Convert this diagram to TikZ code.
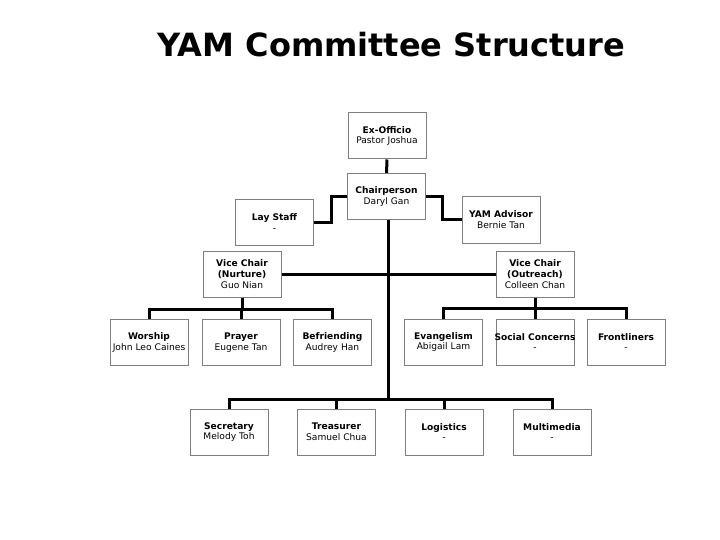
\documentclass[tikz,border=0pt]{standalone}
\usepackage{fontspec}
\setmainfont{DejaVu Sans}
\usetikzlibrary{positioning, calc}
\definecolor{cgrey}{HTML}{7F7F7F}
\tikzset{
  every picture/.style={x=1pt, y=-1pt},
  box/.style={draw=cgrey, fill=white, line width=1pt, text width=76pt, minimum height=46pt, align=center, inner sep=1pt, font=\fontsize{9.1}{10.8}\selectfont},
  link/.style={draw=black, line width=3pt},
  title/.style={font=\fontsize{32}{36}\selectfont\bfseries},
}
\newcommand{\role}[2]{\textbf{#1}\\#2}

\begin{document}
\begin{tikzpicture}
\useasboundingbox (0,0) rectangle (720,540);
% Title
\node[title] (title) at (391.5,45) {YAM Committee Structure};
% top
\node[box] (exofficio) at (387,136) {\role{Ex-Officio}{Pastor Joshua}};
\node[box] (chair) at (386.5,196.5) {\role{Chairperson}{Daryl Gan}};
\node[box] (laystaff) at (274.5,222.5) {\role{Lay Staff}{-}};
\node[box] (advisor) at (501,220) {\role{YAM Advisor}{Bernie Tan}};
% vice chairs
\node[box] (vcnurture) at (242,274) {\textbf{Vice Chair}\\\textbf{(Nurture)}\\Guo Nian};
\node[box] (vcoutreach) at (535,274) {\textbf{Vice Chair}\\\textbf{(Outreach)}\\Colleen Chan};
% ministries
\node[box] (worship) at (149,342.5) {\role{Worship}{John Leo Caines}};
\node[box] (prayer) at (241,342.5) {\role{Prayer}{Eugene Tan}};
\node[box] (befriend) at (332.5,342.5) {\role{Befriending}{Audrey Han}};
\node[box] (evang) at (443.5,342) {\role{Evangelism}{Abigail Lam}};
\node[box] (social) at (535,342) {\role{\makebox[76pt]{Social Concerns}}{-}};
\node[box] (front) at (626,342) {\role{Frontliners}{-}};
% support
\node[box] (secretary) at (229,432) {\role{Secretary}{Melody Toh}};
\node[box] (treasurer) at (336.5,432) {\role{Treasurer}{Samuel Chua}};
\node[box] (logistics) at (444,432) {\role{Logistics}{-}};
\node[box] (multimedia) at (552,432) {\role{Multimedia}{-}};
% connectors
\draw[link] (exofficio) -- (chair);
\draw[link] (chair.west) -- ++(-16,0) |- (laystaff.east);
\draw[link] (chair.east) -- ++(16,0) |- (advisor.west);
\draw[link] (vcnurture.east) -- (vcoutreach.west);
\foreach \c in {secretary,treasurer,logistics,multimedia}
  \draw[link] ([xshift=1.5pt]chair.south) |- ([yshift=9pt]\c.north) -- (\c.north);
\foreach \c in {worship,prayer,befriend}
  \draw[link] (vcnurture.south) |- ([yshift=10pt]\c.north) -- (\c.north);
\foreach \c in {evang,social,front}
  \draw[link] (vcoutreach.south) |- ([yshift=10pt]\c.north) -- (\c.north);
\end{tikzpicture}
\end{document}
